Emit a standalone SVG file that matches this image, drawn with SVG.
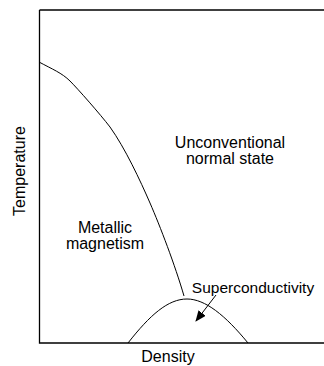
<svg xmlns="http://www.w3.org/2000/svg" width="324" height="366" viewBox="0 0 324 366">
<style>
.ax{stroke:#000;stroke-width:1.3;fill:none}
.cv{stroke:#000;stroke-width:1;fill:none}
.t{font-family:"Liberation Sans",Arial,sans-serif;font-size:16px;fill:#000;text-anchor:middle}
</style>
<defs>
<marker id="ah" markerWidth="11" markerHeight="9" refX="10" refY="4.5" orient="auto" markerUnits="userSpaceOnUse">
<path d="M0,0 L11,4.5 L0,9 Z" fill="#000"/>
</marker>
</defs>
<rect width="324" height="366" fill="#fff"/>
<g id="axes">
<path class="ax" d="M39.5,10 V343 H324"/>
<path class="ax" d="M39.5,10 H324"/>
</g>
<g id="connectors">
<path class="cv" d="M39,62 C52,69 62,73 70,81 S100,114 110,127 C125,148 140,180 150,203 C160,226 175,265 184,296"/>
<path class="cv" d="M128,343 C150,315 168,299 187,299 C205,299 225,315 248,343"/>
<line class="cv" x1="216" y1="295" x2="196" y2="321" marker-end="url(#ah)"/>
</g>
<g id="temperature"><text class="t" transform="translate(25,171) rotate(-90)">Temperature</text></g>
<g id="density"><text class="t" x="168" y="362">Density</text></g>
<g id="unconventional"><text class="t" x="230" y="148">Unconventional</text><text class="t" x="230" y="164">normal state</text></g>
<g id="metallic"><text class="t" x="105" y="233">Metallic</text><text class="t" x="105" y="249">magnetism</text></g>
<g id="superconductivity"><text class="t" x="253" y="293" style="font-size:15.5px">Superconductivity</text></g>
</svg>
